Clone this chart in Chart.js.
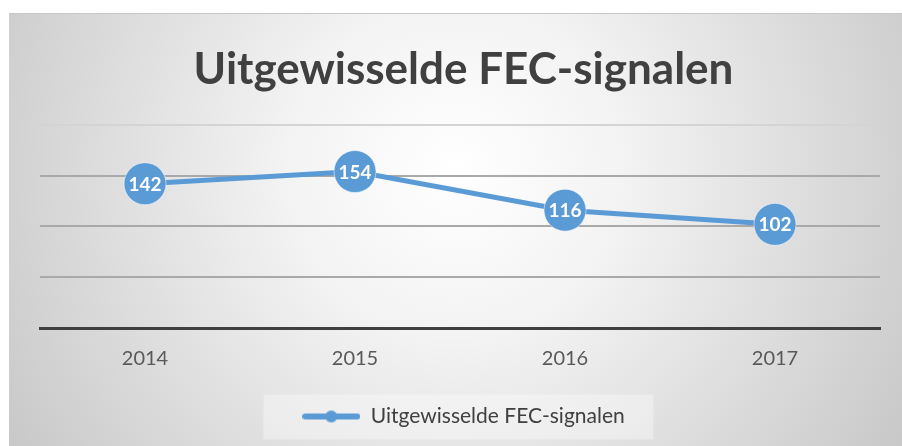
<!DOCTYPE html>
<html>
<head>
<meta charset="utf-8">
<script src="https://cdn.jsdelivr.net/npm/chart.js@4/dist/chart.umd.min.js"></script>
<style>
html,body{margin:0;padding:0;background:#fff;}
#wrap{width:902px;height:446px;position:relative;}
</style>
</head>
<body>
<div id="wrap"><canvas id="c" width="902" height="446"></canvas></div>
<script>
const categories = ['2014', '2015', '2016', '2017'];
const signalen = [142, 154, 116, 102];
const seriesName = 'Uitgewisselde FEC-signalen';
const chartTitle = 'Uitgewisselde FEC-signalen';
const yTicks = [0, 50, 100, 150, 200];

const BLUE = '#5B9BD5';
const FONT = 'Lato, "Open Sans", sans-serif';

// legend marker: thick line with a dot
const marker = document.createElement('canvas');
marker.width = 58; marker.height = 14;
(function(){
  const g = marker.getContext('2d');
  g.strokeStyle = BLUE; g.lineWidth = 6; g.lineCap = 'round';
  g.beginPath(); g.moveTo(3, 7); g.lineTo(55, 7); g.stroke();
  g.fillStyle = BLUE; g.beginPath(); g.arc(29, 7, 6, 0, Math.PI * 2); g.fill();
})();

const bgPlugin = {
  id: 'bg',
  beforeDraw(chart) {
    const ctx = chart.ctx;
    const x0 = 9, y0 = 13, w = chart.width - x0, h = chart.height - y0;
    ctx.save();
    const grd = ctx.createRadialGradient(455, 170, 0, 455, 170, 560);
    grd.addColorStop(0, '#ffffff');
    grd.addColorStop(0.3, '#f3f3f3');
    grd.addColorStop(1, '#c4c4c4');
    ctx.fillStyle = grd;
    ctx.fillRect(x0, y0, w, h);
    ctx.strokeStyle = '#c8c8c8';
    ctx.lineWidth = 1;
    ctx.beginPath(); ctx.moveTo(x0, y0 + 0.5); ctx.lineTo(chart.width, y0 + 0.5); ctx.stroke();
    // legend backdrop
    const lg = chart.legend;
    if (lg && lg.legendHitBoxes && lg.legendHitBoxes.length) {
      const hb = lg.legendHitBoxes[0];
      const cx = hb.left + hb.width / 2 - 5;
      const cy = hb.top + hb.height / 2;
      ctx.fillStyle = 'rgba(255,255,255,0.35)';
      ctx.fillRect(cx - 195, cy - 22, 390, 45);
    }
    ctx.restore();
  }
};

const labelPlugin = {
  id: 'vlabels',
  afterDatasetsDraw(chart) {
    const ctx = chart.ctx;
    const meta = chart.getDatasetMeta(0);
    ctx.save();
    ctx.fillStyle = '#ffffff';
    ctx.font = 'bold 19px ' + FONT;
    ctx.textAlign = 'center';
    ctx.textBaseline = 'middle';
    meta.data.forEach((pt, i) => {
      ctx.fillText(String(signalen[i]), pt.x, pt.y + 1);
    });
    ctx.restore();
  }
};

new Chart(document.getElementById('c'), {
  type: 'line',
  data: {
    labels: categories,
    datasets: [{
      label: seriesName,
      data: signalen,
      borderColor: BLUE,
      backgroundColor: BLUE,
      borderWidth: 5,
      pointRadius: 21,
      pointHoverRadius: 21,
      pointBackgroundColor: BLUE,
      pointBorderColor: 'rgba(255,255,255,0.5)',
      pointBorderWidth: 1,
      tension: 0,
      clip: false
    }]
  },
  options: {
    responsive: false,
    animation: false,
    devicePixelRatio: 1,
    layout: { padding: { left: 40, right: 15, top: 0, bottom: 9 } },
    plugins: {
      title: {
        display: true,
        text: chartTitle,
        color: '#404040',
        font: { family: FONT, size: 44, weight: 'bold' },
        padding: { top: 43, bottom: 29 }
      },
      legend: {
        position: 'bottom',
        labels: {
          usePointStyle: true,
          pointStyle: marker,
          pointStyleWidth: 58,
          boxHeight: 14,
          color: '#404040',
          font: { family: FONT, size: 21 },
          padding: 10
        }
      },
      tooltip: { enabled: false }
    },
    scales: {
      x: {
        offset: true,
        grid: { display: false, drawTicks: false },
        border: { display: true, color: '#3f3f3f', width: 3 },
        ticks: { color: '#595959', font: { family: FONT, size: 20 }, padding: 19 },
        afterFit(scale) { scale.height += 6; }
      },
      y: {
        min: yTicks[0],
        max: yTicks[yTicks.length - 1],
        afterBuildTicks(scale) { scale.ticks = yTicks.map(v => ({ value: v })); },
        grid: {
          drawTicks: false,
          lineWidth: 2,
          color(ctx) {
            const v = ctx.tick && ctx.tick.value;
            if (v === 0) return 'rgba(0,0,0,0)';
            if (v === 200) return '#d4d4d4';
            return '#a9a9a9';
          }
        },
        border: { display: false },
        ticks: { display: false }
      }
    }
  },
  plugins: [bgPlugin, labelPlugin]
});
</script>
</body>
</html>
